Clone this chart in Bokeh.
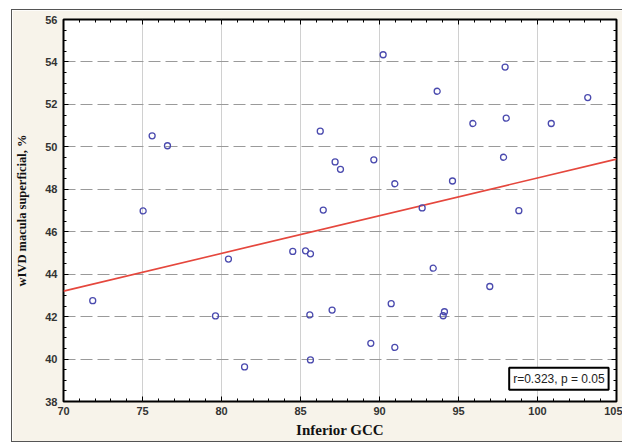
from bokeh.plotting import figure
from bokeh.models import Range1d, SingleIntervalTicker, LinearAxis, Label, CustomJSTickFormatter
from bokeh.embed import file_html
from bokeh.resources import INLINE

# Data
gcc = [90.23, 97.95, 93.65, 103.18, 86.25, 95.91, 98.02, 100.87, 87.19, 87.53,
       89.64, 97.85, 90.97, 94.62, 86.44, 92.70, 98.82, 75.61, 76.58, 75.04,
       71.85, 80.44, 84.51, 85.32, 85.63, 79.62, 85.59, 81.46, 85.63, 87.00,
       90.74, 93.40, 96.98, 94.11, 94.03, 89.45, 90.97]
wivd = [54.34, 53.76, 52.62, 52.32, 50.74, 51.10, 51.35, 51.10, 49.29, 48.94,
        49.39, 49.51, 48.26, 48.39, 47.02, 47.12, 46.99, 50.52, 50.05, 46.98,
        42.75, 44.71, 45.07, 45.10, 44.96, 42.03, 42.08, 39.63, 39.96, 42.31,
        42.61, 44.28, 43.42, 42.23, 42.04, 40.74, 40.55]
fit_x = [70, 105]
fit_y = [43.2, 49.42]
x_title = "Inferior GCC"
y_title = "wIVD macula superficial, %"
stat_text = "r=0.323, p = 0.05"

p = figure(width=611, height=433, x_range=Range1d(70, 105), y_range=Range1d(38, 56),
           output_backend="svg", toolbar_location=None,
           min_border_left=51, min_border_right=7, min_border_top=9, min_border_bottom=42)
p.margin = (9, 0, 0, 11)
p.styles = {"border-left": "1.5px solid #555", "border-top": "1.5px solid #555",
            "border-bottom": "1.5px solid #555"}
p.border_fill_color = "#f7f3ea"
p.background_fill_color = "white"
p.outline_line_color = "black"
p.outline_line_width = 2
p.outline_line_alpha = 1

tick_font = "Liberation Sans"
title_font = "Liberation Serif"

p.xaxis.ticker = SingleIntervalTicker(interval=5, num_minor_ticks=5)
p.yaxis.ticker = SingleIntervalTicker(interval=2, num_minor_ticks=4)
for ax in (p.xaxis[0], p.yaxis[0]):
    ax.major_tick_in = 5
    ax.major_tick_out = 0
    ax.minor_tick_in = 3
    ax.minor_tick_out = 0
    ax.axis_line_color = None
    ax.major_tick_line_color = "black"
    ax.minor_tick_line_color = "black"
    ax.major_label_text_font = tick_font
    ax.major_label_text_font_size = "11px"
    ax.major_label_text_font_style = "bold"
    ax.major_label_text_color = "#333333"
    ax.axis_label_text_font = title_font
    ax.axis_label_text_font_style = "bold"
    ax.axis_label_text_color = "#111111"
p.xaxis.axis_label = x_title
p.yaxis.axis_label = y_title
p.xaxis.axis_label_text_font_size = "15px"
p.yaxis.axis_label_text_font_size = "12.5px"
p.xaxis.major_label_standoff = 5
p.xaxis.axis_label_standoff = 4
p.yaxis.major_label_standoff = 6
p.yaxis.axis_label_standoff = 13

blank = CustomJSTickFormatter(code="return '';")
top = LinearAxis(ticker=SingleIntervalTicker(interval=5, num_minor_ticks=5),
                 formatter=blank, major_label_standoff=0,
                 major_tick_in=5, major_tick_out=0, minor_tick_in=3, minor_tick_out=0,
                 axis_line_color=None)
right = LinearAxis(ticker=SingleIntervalTicker(interval=2, num_minor_ticks=4),
                   formatter=CustomJSTickFormatter(code="return '';"), major_label_standoff=0,
                   major_tick_in=5, major_tick_out=0, minor_tick_in=3, minor_tick_out=0,
                   axis_line_color=None)
p.add_layout(top, "above")
p.add_layout(right, "right")

p.xgrid.grid_line_color = "#d0d0d0"
p.xgrid.grid_line_width = 1
p.ygrid.grid_line_color = "#9a9a9a"
p.ygrid.grid_line_dash = "12 5"
p.ygrid.grid_line_width = 1

p.line(fit_x, fit_y, line_color="#e5473d", line_width=1.6)
p.scatter(gcc, wivd, marker="circle", size=6, fill_color=None,
          line_color="#4a4aae", line_width=1.3)

lab = Label(x=104.5, y=38.55, text=stat_text, text_align="right", text_baseline="bottom",
            text_font=tick_font, text_font_size="12px", text_color="#222222",
            background_fill_color="white", border_line_color="black", border_line_width=2,
            padding=4)
p.add_layout(lab)

open("out.html", "w").write(file_html(p, INLINE))
